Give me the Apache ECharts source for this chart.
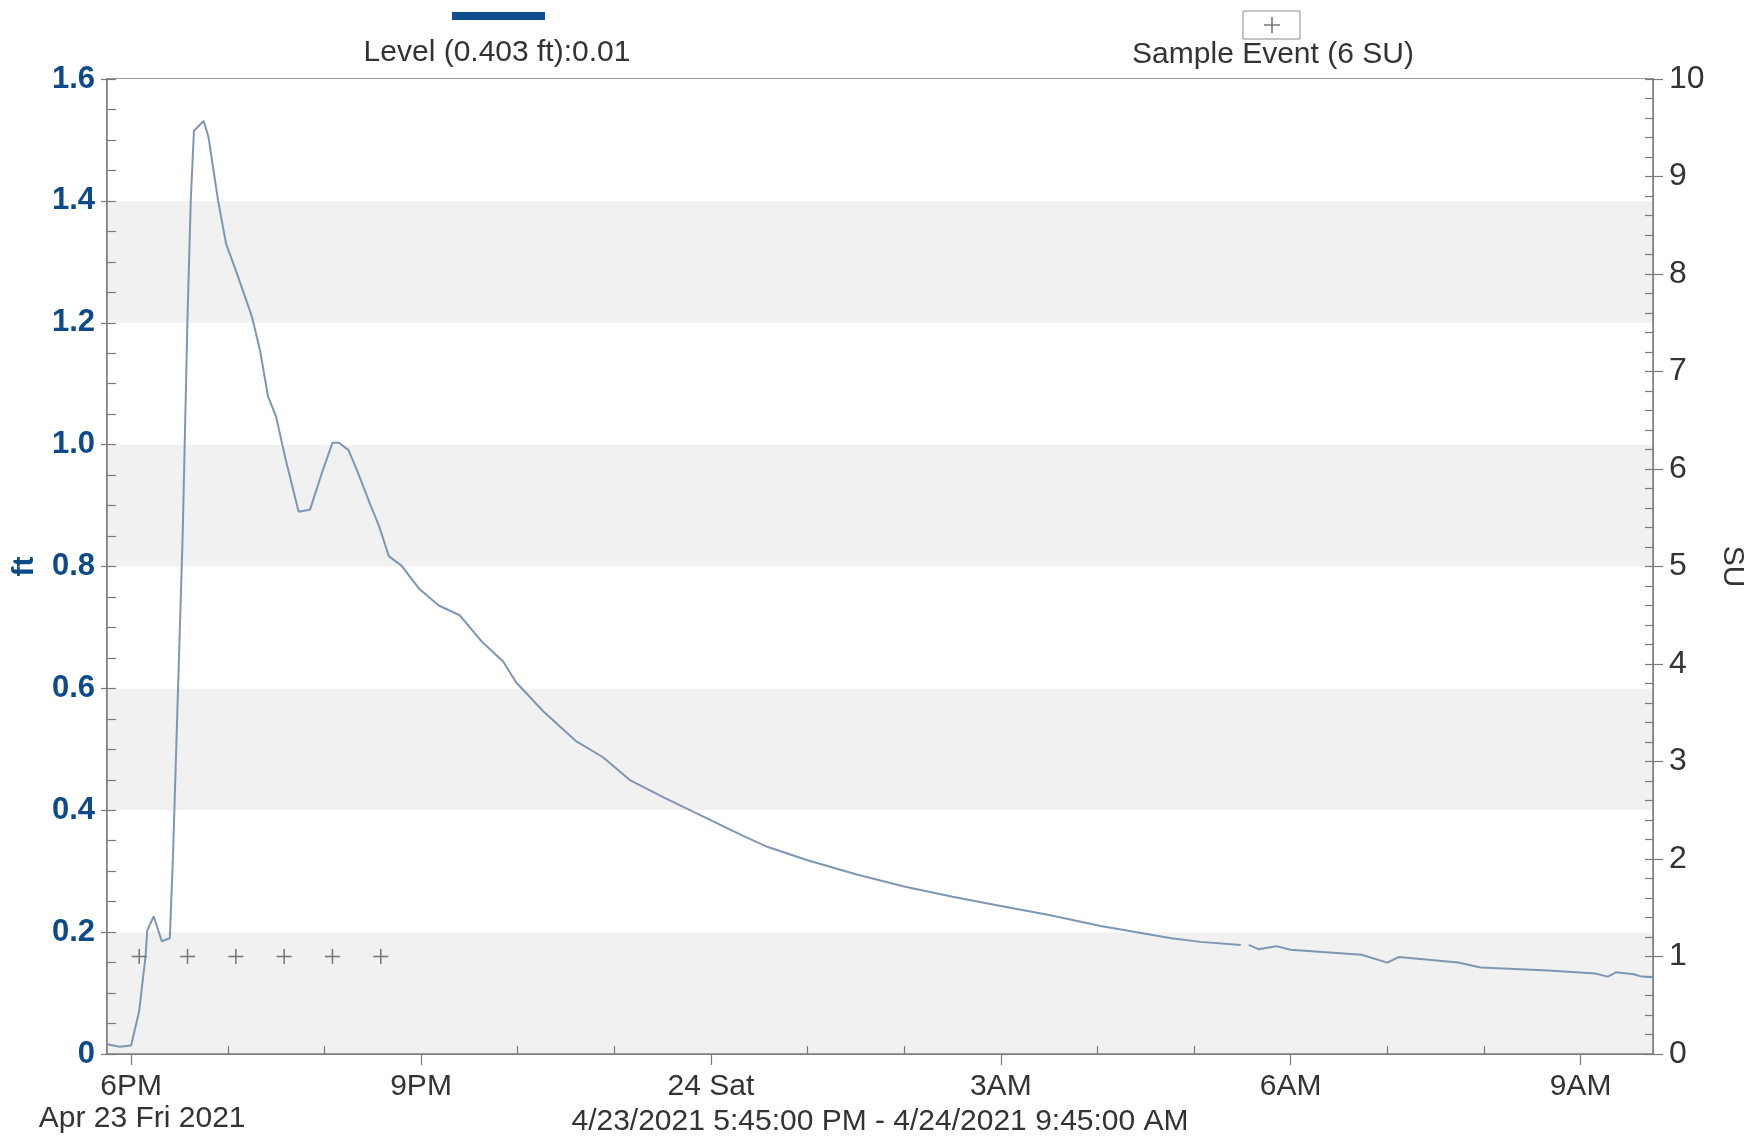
<!DOCTYPE html>
<html><head><meta charset="utf-8">
<script src="https://cdn.jsdelivr.net/npm/echarts@6/dist/echarts.min.js"></script>
<style>html,body{margin:0;padding:0;background:#fff}#chart{width:1754px;height:1137px}</style>
</head><body><div id="chart"></div>
<script>
// ---- data (day-of-month + time) ----
const levelTimes = ['23 17:45','23 17:53','23 18:00','23 18:05','23 18:09','23 18:10','23 18:14','23 18:19','23 18:24','23 18:26',
  '23 18:32','23 18:35','23 18:37','23 18:39','23 18:45','23 18:48','23 18:54','23 18:59','23 19:05','23 19:15',
  '23 19:20','23 19:25','23 19:30','23 19:36','23 19:44','23 19:51','23 19:59','23 20:05','23 20:09','23 20:15',
  '23 20:21','23 20:28','23 20:34','23 20:40','23 20:48','23 20:59','23 21:11','23 21:24','23 21:38','23 21:51',
  '23 21:59','23 22:16','23 22:36','23 22:53','23 23:10','23 23:30','23 23:55','24 00:20','24 00:35','24 01:00',
  '24 01:30','24 02:00','24 02:30','24 03:00','24 03:30','24 04:02','24 04:46','24 05:04','24 05:29','24 05:31',
  '24 05:34','24 05:40','24 05:51','24 06:00','24 06:44','24 07:00','24 07:07','24 07:44','24 07:58','24 08:40',
  '24 09:09','24 09:17','24 09:22','24 09:33','24 09:38','24 09:45'];
const levelValues = [0.016,0.012,0.014,0.071,0.162,0.203,0.226,0.185,0.190,0.327,
  0.852,1.209,1.400,1.515,1.531,1.505,1.400,1.329,1.286,1.210,
  1.155,1.079,1.046,0.975,0.890,0.893,0.958,1.003,1.003,0.991,
  0.953,0.905,0.866,0.817,0.801,0.763,0.736,0.720,0.676,0.644,
  0.610,0.562,0.514,0.487,0.449,0.422,0.390,0.358,0.340,0.318,
  0.295,0.275,0.258,0.243,0.228,0.210,0.190,0.184,0.179,null,
  0.179,0.172,0.177,0.171,0.163,0.150,0.159,0.150,0.142,0.137,
  0.132,0.127,0.134,0.131,0.127,0.126];
const eventTimes = ['23 18:05','23 18:35','23 19:05','23 19:35','23 20:05','23 20:35'];
const eventValues = [1,1,1,1,1,1];

const xTickValues = [18,21,24,27,30,33];
const xTickLabels = ['6PM','9PM','24 Sat','3AM','6AM','9AM'];
const xMinorTickValues = [19,20,22,23,25,26,28,29,31,32];
const firstDateLabel = 'Apr 23 Fri 2021';
const rangeLabel = '4/23/2021 5:45:00 PM - 4/24/2021 9:45:00 AM';
const levelLegendText = 'Level (0.403 ft):0.01';
const eventLegendText = 'Sample Event (6 SU)';
const xMin = 17.75, xMax = 33.75;

function toHours(s) {
  const [d, hm] = s.split(' ');
  const [h, m] = hm.split(':').map(Number);
  return (Number(d) - 23) * 24 + h + m / 60;
}

const FONT = "'Liberation Sans', Arial, sans-serif";
const AXIS_COLOR = '#7a7a7a';
const BLUE = '#0d4a8a';

const levelData = levelTimes.map((t, i) => [toHours(t), levelValues[i] == null ? '-' : levelValues[i]]);
const eventData = eventTimes.map((t, i) => [toHours(t), eventValues[i]]);
const plusPath = 'path://M0 6.3H14V7.7H0Z M6.3 0H7.7V14H6.3Z';

const chart = echarts.init(document.getElementById('chart'), null, {renderer: 'canvas'});
chart.setOption({
  animation: false,
  backgroundColor: '#ffffff',
  textStyle: {fontFamily: FONT},
  grid: {left: 107, right: 101, top: 79, bottom: 83, outerBoundsMode: 'none', containLabel: false,
         show: true, borderColor: AXIS_COLOR, borderWidth: 1.5, backgroundColor: 'transparent'},
  legend: [
    {data: [{name: 'Level', icon: 'rect'}], left: 452, top: 12, itemWidth: 93, itemHeight: 8, padding: 0, itemGap: 0,
     formatter: () => '', textStyle: {fontSize: 1}, selectedMode: false},
    {data: [{name: 'Sample Event'}], left: 1243, top: 11, itemWidth: 16, itemHeight: 16, padding: [6, 20, 6, 21], itemGap: 0,
     borderColor: '#8a8a8a', borderWidth: 1, formatter: () => '', textStyle: {fontSize: 1}, selectedMode: false}
  ],
  graphic: [
    {type: 'text', x: 497, y: 53, style: {text: levelLegendText, font: '30px ' + FONT, fill: '#333', align: 'center', verticalAlign: 'middle'}},
    {type: 'text', x: 1273, y: 55, style: {text: eventLegendText, font: '30px ' + FONT, fill: '#333', align: 'center', verticalAlign: 'middle'}}
  ],
  xAxis: [
    {type: 'value', min: xMin, max: xMax, position: 'bottom',
     axisLine: {show: true, lineStyle: {color: AXIS_COLOR, width: 1.5}},
     axisTick: {show: true, customValues: xTickValues, length: 11, lineStyle: {color: AXIS_COLOR, width: 1.2}},
     axisLabel: {customValues: xTickValues, margin: 17, fontSize: 30, color: '#333', lineHeight: 32, fontFamily: FONT,
       rich: {d: {fontSize: 30, lineHeight: 32, color: '#333', fontFamily: FONT, padding: [0, 0, 0, 22]}},
       formatter: (v) => {
         const i = xTickValues.indexOf(Math.round(v));
         const lab = i >= 0 ? xTickLabels[i] : '';
         return i === 0 ? lab + '\n{d|' + firstDateLabel + '}' : lab;
       }},
     splitLine: {show: false},
     name: rangeLabel, nameLocation: 'middle', nameGap: 53, nameMoveOverlap: false,
     nameTextStyle: {fontSize: 30, color: '#333', lineHeight: 30, fontFamily: FONT}},
    {type: 'value', min: xMin, max: xMax, position: 'bottom',
     axisLine: {show: false},
     axisTick: {show: true, customValues: xMinorTickValues, inside: true, length: 8, lineStyle: {color: AXIS_COLOR, width: 1.2}},
     axisLabel: {show: false}, splitLine: {show: false}}
  ],
  yAxis: [
    {type: 'value', min: 0, max: 1.6, interval: 0.2, position: 'left',
     axisLine: {show: true, lineStyle: {color: AXIS_COLOR, width: 1.5}},
     axisTick: {show: true, length: 6, lineStyle: {color: AXIS_COLOR, width: 1.2}},
     axisLabel: {margin: 12, fontSize: 31, fontWeight: 'bold', color: BLUE, fontFamily: FONT,
       formatter: (v) => v === 0 ? '0' : v.toFixed(1)},
     splitLine: {show: false},
     splitArea: {show: true, areaStyle: {color: ['#f1f1f1', '#ffffff']}},
     name: 'ft', nameLocation: 'middle', nameGap: 67, nameMoveOverlap: false,
     nameTextStyle: {fontSize: 30, fontWeight: 'bold', color: BLUE, fontFamily: FONT}},
    {type: 'value', min: 0, max: 10, interval: 1, position: 'right',
     axisLine: {show: true, lineStyle: {color: AXIS_COLOR, width: 1.5}},
     axisTick: {show: true, length: 10, lineStyle: {color: AXIS_COLOR, width: 1.2}},
     axisLabel: {margin: 16, fontSize: 32, color: '#333', fontFamily: FONT},
     splitLine: {show: false},
     name: 'SU', nameLocation: 'middle', nameRotate: -90, nameGap: 64, nameMoveOverlap: false,
     nameTextStyle: {fontSize: 30, color: '#333', fontFamily: FONT}},
    {type: 'value', min: 0, max: 1.6, interval: 0.2, position: 'left',
     axisLine: {show: false},
     axisTick: {show: true, inside: true, length: 9, lineStyle: {color: AXIS_COLOR, width: 1.2}},
     minorTick: {show: true, splitNumber: 4, length: 9, lineStyle: {color: AXIS_COLOR, width: 1.2}},
     axisLabel: {show: false}, splitLine: {show: false}},
    {type: 'value', min: 0, max: 10, interval: 1, position: 'right',
     axisLine: {show: false},
     axisTick: {show: true, inside: true, length: 8, lineStyle: {color: AXIS_COLOR, width: 1.2}},
     minorTick: {show: true, splitNumber: 5, length: 8, lineStyle: {color: AXIS_COLOR, width: 1.2}},
     axisLabel: {show: false}, splitLine: {show: false}}
  ],
  series: [
    {name: 'Level', type: 'line', xAxisIndex: 0, yAxisIndex: 0, data: levelData,
     showSymbol: false, symbol: 'none', connectNulls: false, color: '#0f4f90',
     lineStyle: {color: '#7f96b3', width: 2}, z: 3},
    {name: 'Sample Event', type: 'scatter', xAxisIndex: 0, yAxisIndex: 1, data: eventData,
     symbol: plusPath, symbolSize: 15, itemStyle: {color: '#555'}, z: 4}
  ]
});
</script>
</body></html>
